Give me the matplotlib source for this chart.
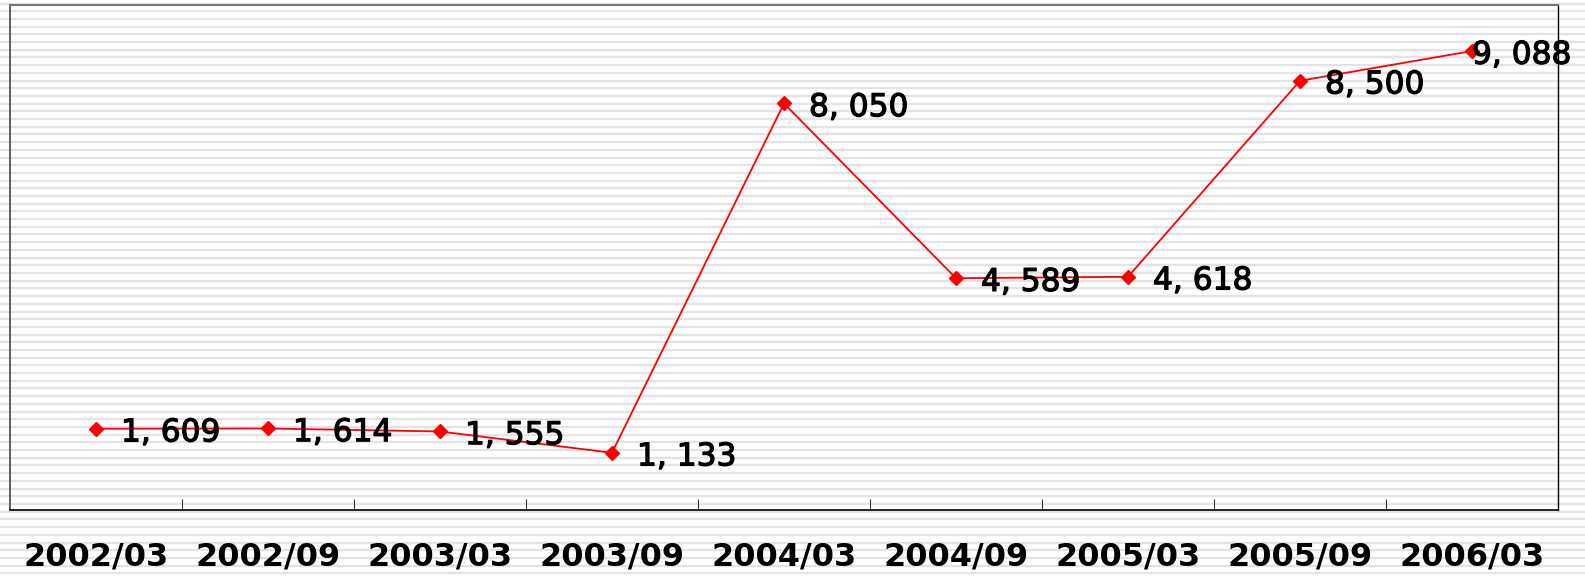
import numpy as np
import matplotlib.pyplot as plt
import matplotlib.patheffects as pe

# data
periods = ["2002/03", "2002/09", "2003/03", "2003/09", "2004/03",
           "2004/09", "2005/03", "2005/09", "2006/03"]
values = [1609, 1614, 1555, 1133, 8050, 4589, 4618, 8500, 9088]
value_labels = ["1, 609", "1, 614", "1, 555", "1, 133", "8, 050",
                "4, 589", "4, 618", "8, 500", "9, 088"]

plt.rcParams['font.family'] = ['DejaVu Sans']

W, H = 1585, 580
fig = plt.figure(figsize=(W / 100, H / 100), dpi=100)
fig.patch.set_facecolor('white')

# striped background over the whole figure
bg = fig.add_axes([0, 0, 1, 1], zorder=-10)
bg.set_xlim(0, W)
bg.set_ylim(H, 0)
bg.axis('off')
for y in np.arange(3.5, H, 7.7):
    bg.axhline(y, color='#e3e3e3', lw=1.6)

ax = fig.add_axes([10 / W, (H - 510) / H, 1548 / W, 505 / H])
ax.patch.set_alpha(0)

x = np.arange(len(periods))
ax.plot(x, values, color='red', lw=1.3, marker='D', ms=7,
        markeredgecolor='red', markerfacecolor='red', zorder=3)

# thicken glyphs a bit, the original font is heavier than DejaVu regular
heavy = [pe.withStroke(linewidth=0.9, foreground='black')]

for i, (v, lab) in enumerate(zip(values, value_labels)):
    dx = 0 if i == len(values) - 1 else 18
    ax.annotate(lab, (i, v), xytext=(dx, -3), textcoords='offset points',
                ha='left', va='center', fontsize=22.5, path_effects=heavy,
                color='black', zorder=4, annotation_clip=False)

ax.set_xlim(-0.5, len(periods) - 0.5)
ax.set_ylim(0, 10000)
ax.set_yticks([])
ax.set_xticks(np.arange(len(periods) - 1) + 0.5)
ax.set_xticklabels([])
ax.tick_params(axis='x', direction='in', length=8, width=0.8, color='#333333')

for i, p in enumerate(periods):
    ax.text(i, -0.093, p, transform=ax.get_xaxis_transform(),
            ha='center', va='center', fontsize=23, fontweight='bold')

ax.spines['top'].set_color('#777777')
ax.spines['top'].set_linewidth(1.5)
ax.spines['left'].set_color('#444444')
ax.spines['left'].set_linewidth(1.2)
ax.spines['right'].set_color('black')
ax.spines['bottom'].set_color('black')
ax.spines['right'].set_linewidth(1.0)
ax.spines['bottom'].set_linewidth(1.2)

fig.savefig('out.png', dpi=100)
